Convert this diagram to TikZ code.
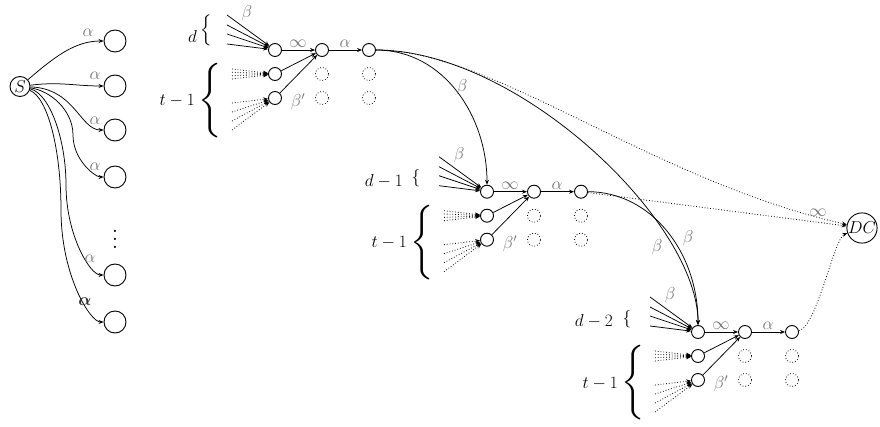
\documentclass[tikz,border=0pt]{standalone}
\usepackage{exscale}
\usepackage{bm}
\usetikzlibrary{arrows.meta}
\begin{document}
\begin{tikzpicture}[x=1pt,y=-1pt,
  every node/.style={font=\fontsize{18}{21}\selectfont, inner sep=0pt},
  sn/.style={circle,draw,line width=0.9pt,minimum size=13pt},
  dn/.style={circle,draw,dotted,line width=0.8pt,minimum size=13pt},
  bn/.style={circle,draw,line width=0.9pt,minimum size=22pt},
  lab/.style={text=black!55},
  arr/.style={line width=0.75pt,-{Stealth[length=5pt,width=4pt]}},
  darr/.style={line width=0.8pt,dotted,-{Stealth[length=5pt,width=4pt]}},
]
\useasboundingbox (0,0) rectangle (880,427);

% ---------- left fan ----------
\node[bn,minimum size=20pt] (S) at (20,86.5) {$S$};
\foreach \k/\y in {1/41,2/86,3/130,4/177,5/275,6/322}
  \node[bn] (c\k) at (115,\y) {};
\node[font=\fontsize{10}{12}\selectfont, scale=2.1] (vd) at (115,233) {$\vdots$};
\coordinate (m4) at (73,135);
\coordinate (m5) at (66,185);
\coordinate (m6) at (61,210);
\draw[arr] (S) .. controls +(35,-30) and +(-40,0) .. (c1);
\draw[arr] (S) .. controls +(40,-5) and +(-40,0) .. (c2);
\draw[arr] (S) .. controls +(55,2) and +(-35,0) .. (c3);
\draw[arr] (S) .. controls +(30,4) and +(0,-25) .. (m4) .. controls +(0,25) and +(-20,0) .. (c4);
\draw[arr] (S) .. controls +(30,7) and +(0,-45) .. (m5) .. controls +(0,50) and +(-25,0) .. (c5);
\draw[arr] (S) .. controls +(28,11) and +(0,-60) .. (m6) .. controls +(0,65) and +(-25,0) .. (c6);
\node[lab] (a1) at (88,33) {$\alpha$};
\node[lab] (a2) at (95,76) {$\alpha$};
\node[lab] (a3) at (95,121) {$\alpha$};
\node[lab] (a4) at (95,167) {$\alpha$};
\node[lab] (a5) at (90,259) {$\alpha$};
\node[text=black!80] (a6) at (85,302) {$\bm{\alpha}$};

% ---------- gadgets ----------
\foreach \i/\X/\Y in {1/275/50, 2/487/191.7, 3/698/332} {
  \node[sn] (in\i) at (\X,\Y) {};
  \node[sn] (md\i) at (\X+47,\Y) {};
  \node[sn] (rt\i) at (\X+94,\Y) {};
  \node[sn] (la\i) at (\X,\Y+24) {};
  \node[sn] (lb\i) at (\X,\Y+48) {};
  \node[dn] (pa\i) at (\X+47,\Y+24) {};
  \node[dn] (pb\i) at (\X+47,\Y+48) {};
  \node[dn] (qa\i) at (\X+94,\Y+24) {};
  \node[dn] (qb\i) at (\X+94,\Y+48) {};
  \draw[arr] (in\i) -- (md\i);
  \draw[arr] (md\i) -- (rt\i);
  \draw[arr] (la\i) -- (md\i);
  \draw[arr] (lb\i) -- (md\i);
  \foreach \j/\dy in {1/-35,2/-25,3/-16,4/-6} {
    \coordinate (bs\i\j) at (\X-48,\Y+\dy);
    \draw[arr] (bs\i\j) -- (in\i);
  }
  \foreach \j/\dy in {1/19,2/22.3,3/25.7,4/29} {
    \coordinate (ts\i\j) at (\X-43,\Y+\dy);
    \draw[darr] (ts\i\j) -- (la\i);
  }
  \foreach \j/\dy in {1/53,2/62,3/71,4/80} {
    \coordinate (us\i\j) at (\X-43,\Y+\dy);
    \draw[darr] (us\i\j) -- (lb\i);
  }
  \node[lab] (be\i) at (\X-28,\Y-37) {$\beta$};
  \node[lab] (inf\i) at (\X+23,\Y-6) {$\infty$};
  \node[lab] (al\i) at (\X+70,\Y-6) {$\alpha$};
  \node[lab] (bp\i) at (\X+23,\Y+52) {$\beta'$};
  \node[anchor=base east] (tl\i) at (\X-80,\Y+56) {$t-1$};
  \node[anchor=east, scale=1.8] (tb\i) at (\X-51,\Y+51) {$\left\{\vrule height 25pt depth 16pt width 0pt\right.$};
}
% d braces
\node[anchor=base east] (dl1) at (197,43) {$d$};
\node (db1) at (206,30) {$\Big\{$};
\node[anchor=base east] (dl2) at (403,186.7) {$d-1$};
\node (db2) at (416,178) {$\{$};
\node[anchor=base east] (dl3) at (613,326.7) {$d-2$};
\node (db3) at (627,319) {$\{$};

% ---------- DC ----------
\node[circle,draw,line width=0.9pt,minimum size=30pt] (DC) at (862,228) {$DC$};

% long connectors
\draw[darr] (rt1) .. controls +(125,0) and +(-212,-48) .. (DC);
\draw[darr] (rt2) -- (DC);
\draw[darr] (rt3) .. controls +(25,-5) and +(-28,10) .. (DC);
\draw[arr] (rt1) .. controls +(75,0) and +(0,-75) .. (in2);
\draw[arr] (rt1) .. controls +(150,0) and +(0,-110) .. (in3);
\draw[arr] (rt2) .. controls +(70,0) and +(0,-80) .. (in3);
\node[lab] (lb12) at (462,87) {$\beta$};
\node[lab] (lb13) at (688,238) {$\beta$};
\node[lab] (lb23) at (657,247) {$\beta$};
\node[lab] (linf) at (818,213) {$\infty$};
\end{tikzpicture}
\end{document}
